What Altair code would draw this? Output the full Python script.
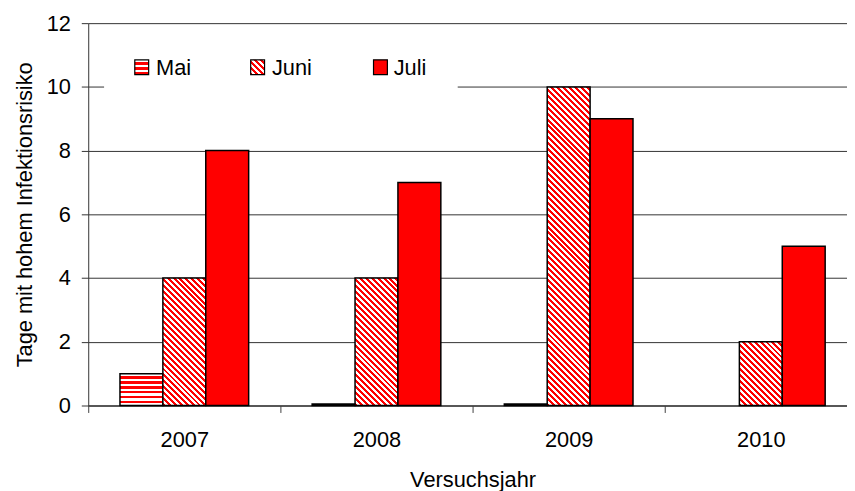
import math
import altair as alt
import pandas as pd

# ---- data ----
years = ["2007", "2008", "2009", "2010"]
months = ["Mai", "Juni", "Juli"]
mai = [1, 0.05, 0.05, 0]
juni = [4, 4, 10, 2]
juli = [8, 7, 9, 5]
y_ticks = [0, 2, 4, 6, 8, 10, 12]

df = pd.DataFrame({
    "Jahr": years * 3,
    "Monat": ["Mai"] * 4 + ["Juni"] * 4 + ["Juli"] * 4,
    "Tage": mai + juni + juli,
})
legend_df = pd.DataFrame({"Monat": months})

# ---- layout / style ----
FONT = "Liberation Sans"
RED = "#FF0000"
PLOT_W = 766
RANGE_W = 776
PLOT_H = 386
YMAX = 12
OFF_PAD = 0.74
BAR_W = RANGE_W / len(years) / (len(months) + 2 * OFF_PAD)
PX_PER_UNIT = PLOT_H / YMAX


def hstripes(h, period=5.0, frac=0.5):
    n = max(h / period, 1)
    stops = []
    i = 0
    while i / n < 1:
        a, b, c = i / n, min((i + frac) / n, 1), min((i + 1) / n, 1)
        stops += [alt.GradientStop(color="white", offset=a), alt.GradientStop(color="white", offset=b),
                  alt.GradientStop(color=RED, offset=b), alt.GradientStop(color=RED, offset=c)]
        i += 1
    return alt.LinearGradient(gradient="linear", stops=stops, x1=0, y1=0, x2=0, y2=1)


def dstripes(w, h, period=6.0, frac=0.5):
    s = (w + h) / (w * w + h * h)
    n = (w + h) / period
    stops = []
    i = 0
    while i / n < 1:
        a, b, c = i / n, min((i + frac) / n, 1), min((i + 1) / n, 1)
        stops += [alt.GradientStop(color=RED, offset=a), alt.GradientStop(color=RED, offset=b),
                  alt.GradientStop(color="white", offset=b), alt.GradientStop(color="white", offset=c)]
        i += 1
    return alt.LinearGradient(gradient="linear", stops=stops, x1=0, y1=1, x2=w * s, y2=1 - h * s)


x_enc = alt.X(
    "Jahr:N",
    scale=alt.Scale(domain=years, range=[0, RANGE_W], paddingInner=0, paddingOuter=0),
    axis=alt.Axis(title="Versuchsjahr", labelAngle=0, tickBand="extent", tickSize=7,
                  labelPadding=17, titlePadding=20, grid=False,
                  domainColor="#404040", tickColor="#404040", domainWidth=1.5),
)
xoff_enc = alt.XOffset("Monat:N", scale=alt.Scale(domain=months, paddingInner=0, paddingOuter=OFF_PAD))
y_enc = alt.Y(
    "Tage:Q",
    scale=alt.Scale(domain=[0, YMAX], nice=False),
    axis=alt.Axis(title="Tage mit hohem Infektionsrisiko", values=y_ticks, tickSize=7,
                  labelPadding=11, titlePadding=10, grid=True, gridColor="#333333",
                  gridWidth=1, domainColor="#333333", tickColor="#333333"),
)

base = alt.Chart(df).encode(x=x_enc, xOffset=xoff_enc, y=y_enc)
bar_style = dict(stroke="black", strokeWidth=1.5)

layers = []
layers.append(
    base.transform_filter("datum.Monat == 'Mai' && datum.Tage > 0")
    .mark_bar(fill=hstripes(1 * PX_PER_UNIT), **bar_style)
)
for v in sorted(set(juni)):
    layers.append(
        base.transform_filter(f"datum.Monat == 'Juni' && datum.Tage == {v}")
        .mark_bar(fill=dstripes(BAR_W, v * PX_PER_UNIT), **bar_style)
    )
layers.append(base.transform_filter("datum.Monat == 'Juli'").mark_bar(fill=RED, **bar_style))

# ---- legend (drawn by hand to show the hatch patterns) ----
box = alt.Chart(pd.DataFrame({"k": [0]})).mark_rect(fill="white").encode(
    x=alt.value(16), x2=alt.value(373), y=alt.value(19), y2=alt.value(74))
layers.append(box)

sym_x = {"Mai": 47, "Juni": 164, "Juli": 288}
txt_x = {"Mai": 68.4, "Juni": 185.4, "Juli": 308.4}
sym_fill = {"Mai": hstripes(15, 5.0), "Juni": dstripes(14, 15), "Juli": RED}
for m in months:
    layers.append(
        alt.Chart(legend_df).transform_filter(f"datum.Monat == '{m}'")
        .mark_rect(fill=sym_fill[m], stroke="black", strokeWidth=1.2)
        .encode(x=alt.value(sym_x[m]), x2=alt.value(sym_x[m] + 14), y=alt.value(37), y2=alt.value(52))
    )
    layers.append(
        alt.Chart(legend_df).transform_filter(f"datum.Monat == '{m}'")
        .mark_text(align="left", baseline="alphabetic", fontSize=22, font=FONT, color="black")
        .encode(text="Monat:N", x=alt.value(txt_x[m]), y=alt.value(52))
    )

chart = (
    alt.layer(*layers)
    .properties(width=PLOT_W, height=PLOT_H,
                autosize=alt.AutoSizeParams(type="none"),
                padding={"left": 81, "top": 13, "right": 0, "bottom": 84})
    .configure_view(stroke=None)
    .configure_axis(labelFont=FONT, titleFont=FONT, labelFontSize=22, titleFontSize=22,
                    titleFontWeight="normal", labelColor="black", titleColor="black")
)

chart.save("out.html", embed_options={"renderer": "svg", "actions": False})
